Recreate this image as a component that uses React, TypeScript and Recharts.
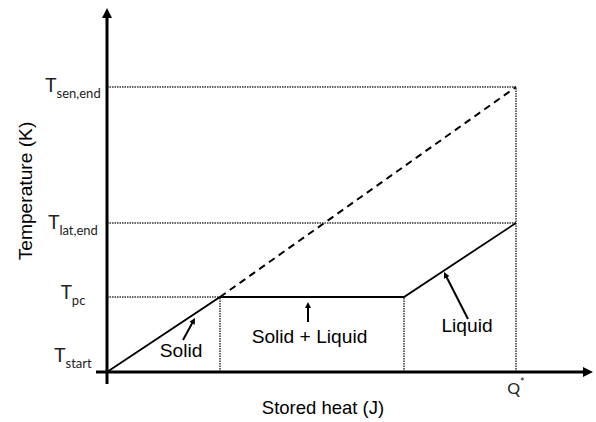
import React from "react";
import { ComposedChart, Line, XAxis, YAxis, ReferenceLine, ReferenceDot, Label } from "recharts";

// Stored heat (J) at the breakpoints of the actual (phase-change) path
const heatPoints = [0, 113, 297, 409];
// Temperature along the actual path
const tempPoints = [0, 75, 75, 149];
// Sensible-only (dashed) continuation
const sensibleHeat = [113, 409];
const sensibleTemp = [75, 285];

// Axis ticks
const yTickValues = [0, 75, 149, 285];
const yTickMain = ["T", "T", "T", "T"];
const yTickSub = ["start", "pc", "lat,end", "sen,end"];
const xTickValues = [409];
const xTickMain = ["Q"];
const xTickSup = ["*"];

// Phase annotations: label text, label anchor, arrow tail, arrow tip
const phaseLabels = ["Solid", "Solid + Liquid", "Liquid"];
const labelX = [74, 202.5, 360];
const labelY = [15, 29, 40];
const arrowTailX = [76, 201, 361];
const arrowTailY = [32, 50, 53];
const arrowTipX = [88, 201, 337];
const arrowTipY = [54, 70, 100];

const axisMinX = -11;
const axisMaxX = 486;
const axisMinY = -12;
const axisMaxY = 364;

const actualData = heatPoints.map((x, i) => ({ x, t: tempPoints[i] }));
const sensibleData = sensibleHeat.map((x, i) => ({ x, s: sensibleTemp[i] }));

const yTickDy: Record<string, number> = { "0": -10, "75": 2, "149": 6, "285": 5 };

const ARIAL = "'Liberation Sans', Arial, sans-serif";
const CAL = "Lato, 'Open Sans', sans-serif";

const YTick = (props: any) => {
  const { y, payload } = props;
  const i = yTickValues.indexOf(payload.value);
  if (i < 0) return null;
  const base = y + (yTickDy[String(payload.value)] ?? 0);
  return (
    <text x={73} y={base} textAnchor="middle" fill="#222" fontFamily={CAL}>
      <tspan fontSize={19}>{yTickMain[i]}</tspan>
      <tspan fontSize={13} dy={6}>{yTickSub[i]}</tspan>
    </text>
  );
};

const XTick = (props: any) => {
  const { x, payload } = props;
  const i = xTickValues.indexOf(payload.value);
  if (i < 0) return null;
  return (
    <text x={x} y={394} textAnchor="middle" fill="#222" fontFamily={CAL}>
      <tspan fontSize={16}>{xTickMain[i]}</tspan>
      <tspan fontSize={11} dy={-8}>{xTickSup[i]}</tspan>
    </text>
  );
};

const ArrowLine = (props: any) => {
  const { x1, y1, x2, y2, head = 9, headW = 4, width = 3 } = props;
  if ([x1, y1, x2, y2].some((v) => v === undefined || isNaN(v))) return null;
  const dx = x2 - x1;
  const dy = y2 - y1;
  const len = Math.sqrt(dx * dx + dy * dy) || 1;
  const ux = dx / len;
  const uy = dy / len;
  const bx = x2 - ux * head;
  const by = y2 - uy * head;
  const px = -uy * headW;
  const py = ux * headW;
  return (
    <g>
      <line x1={x1} y1={y1} x2={bx + ux * 1} y2={by + uy * 1} stroke="#000" strokeWidth={width} />
      <polygon points={`${x2},${y2} ${bx + px},${by + py} ${bx - px},${by - py}`} fill="#000" />
    </g>
  );
};

const dotted = { stroke: "#333", strokeWidth: 1.5, strokeDasharray: "1.5 1" };

export default function App() {
  return (
    <div style={{ position: "absolute", left: 0, top: 0, width: 596, height: 422, background: "#fff" }}>
      <ComposedChart width={596} height={422} margin={{ top: 8, right: 3, bottom: 0, left: 0 }}>
        <XAxis
          type="number"
          dataKey="x"
          domain={[axisMinX, axisMaxX]}
          ticks={xTickValues}
          allowDataOverflow
          axisLine={false}
          tickLine={false}
          height={38}
          tick={<XTick />}
          label={
            <Label
              content={() => (
                <text x={323} y={414} textAnchor="middle" fontSize={18.5} fontFamily={ARIAL} fill="#000">
                  Stored heat (J)
                </text>
              )}
            />
          }
        />
        <YAxis
          type="number"
          domain={[axisMinY, axisMaxY]}
          ticks={yTickValues}
          allowDataOverflow
          axisLine={false}
          tickLine={false}
          width={96}
          tick={<YTick />}
          label={
            <Label
              content={() => (
                <text
                  x={32}
                  y={191}
                  textAnchor="middle"
                  fontSize={19.2}
                  fontFamily={ARIAL}
                  fill="#000"
                  transform="rotate(-90 32 191)"
                >
                  Temperature (K)
                </text>
              )}
            />
          }
        />

        {/* dotted guides */}
        <ReferenceLine segment={[{ x: 0, y: sensibleTemp[1] }, { x: sensibleHeat[1], y: sensibleTemp[1] }]} ifOverflow="visible" {...dotted} />
        <ReferenceLine segment={[{ x: 0, y: tempPoints[3] }, { x: heatPoints[3], y: tempPoints[3] }]} ifOverflow="visible" {...dotted} />
        <ReferenceLine segment={[{ x: 0, y: tempPoints[1] }, { x: heatPoints[1], y: tempPoints[1] }]} ifOverflow="visible" {...dotted} />
        <ReferenceLine segment={[{ x: heatPoints[1], y: 0 }, { x: heatPoints[1], y: tempPoints[1] }]} ifOverflow="visible" {...dotted} />
        <ReferenceLine segment={[{ x: heatPoints[2], y: 0 }, { x: heatPoints[2], y: tempPoints[2] }]} ifOverflow="visible" {...dotted} />
        <ReferenceLine segment={[{ x: heatPoints[3], y: 0 }, { x: heatPoints[3], y: sensibleTemp[1] }]} ifOverflow="visible" {...dotted} />

        <Line
          data={sensibleData}
          dataKey="s"
          type="linear"
          stroke="#000"
          strokeWidth={2}
          strokeDasharray="7 5"
          dot={false}
          activeDot={false}
          isAnimationActive={false}
        />
        <Line
          data={actualData}
          dataKey="t"
          type="linear"
          stroke="#000"
          strokeWidth={1.8}
          dot={false}
          activeDot={false}
          isAnimationActive={false}
        />

        {/* axes with arrow heads */}
        <ReferenceLine
          segment={[{ x: axisMinX, y: 0 }, { x: axisMaxX, y: 0 }]}
          ifOverflow="visible"
          shape={(p: any) => <ArrowLine {...p} head={10} headW={5} width={3} />}
        />
        <ReferenceLine
          segment={[{ x: 0, y: axisMinY }, { x: 0, y: axisMaxY }]}
          ifOverflow="visible"
          shape={(p: any) => <ArrowLine {...p} head={10} headW={5} width={3} />}
        />

        {/* phase arrows */}
        {phaseLabels.map((_, i) => (
          <ReferenceLine
            key={"arr" + i}
            segment={[{ x: arrowTailX[i], y: arrowTailY[i] }, { x: arrowTipX[i], y: arrowTipY[i] }]}
            ifOverflow="visible"
            shape={(p: any) => <ArrowLine {...p} head={6} headW={3} width={2} />}
          />
        ))}

        {/* phase labels */}
        {phaseLabels.map((txt, i) => (
          <ReferenceDot
            key={"lbl" + i}
            x={labelX[i]}
            y={labelY[i]}
            r={0}
            ifOverflow="visible"
            shape={(p: any) => (
              <text x={p.cx} y={p.cy} textAnchor="middle" fontSize={19.2} fontFamily={ARIAL} fill="#000">
                {txt}
              </text>
            )}
          />
        ))}
      </ComposedChart>
    </div>
  );
}
